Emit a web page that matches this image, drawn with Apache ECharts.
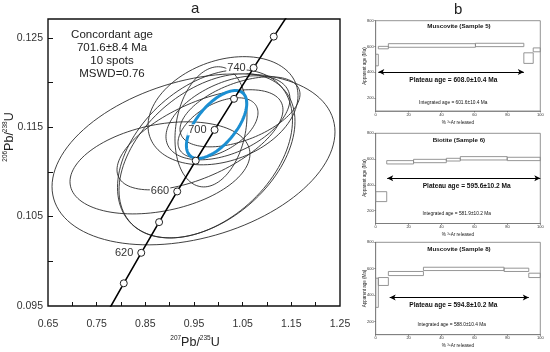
<!DOCTYPE html>
<html><head><meta charset="utf-8">
<script src="https://cdn.jsdelivr.net/npm/echarts@6/dist/echarts.min.js"></script>
<style>html,body{margin:0;padding:0;background:#fff}#c{width:550px;height:352px}</style>
</head><body><div id="c"></div>
<script>
// ---------- Panel a: concordia diagram ----------
const concordiaAges = [580, 600, 620, 640, 660, 680, 700, 720, 740, 760, 780];
const concordiaX = [0.7705, 0.8057, 0.8416, 0.8783, 0.9155, 0.9535, 0.9923, 1.0322, 1.0725, 1.1139, 1.1559];
const concordiaY = [0.09414, 0.09754, 0.10095, 0.10438, 0.10781, 0.11125, 0.11470, 0.11817, 0.12164, 0.12513, 0.12862];
const markerAges = [600, 620, 640, 660, 680, 700, 720, 740, 760];
const labeledAges = [620, 660, 700, 740];
const xTickLabelsA = [0.65, 0.75, 0.85, 0.95, 1.05, 1.15, 1.25];
const xTicksA = [0.70, 0.75, 0.80, 0.85, 0.90, 0.95, 1.00, 1.05, 1.10, 1.15, 1.20];
const yTickLabelsA = [0.095, 0.105, 0.115, 0.125];
const yTicksA = [0.100, 0.105, 0.110, 0.115, 0.120, 0.125];
// spot error ellipses: centre x, centre y, half-extent x, half-extent y, correlation
const spotX   = [0.9490, 0.8801, 0.9726, 0.9767, 1.0096, 0.9849, 1.0198, 0.9993, 1.0445, 0.9623];
const spotY   = [0.11141, 0.11045, 0.11202, 0.11180, 0.11684, 0.11504, 0.11605, 0.11493, 0.11672, 0.11359];
const spotSx  = [0.2907, 0.1849, 0.1798, 0.1808, 0.1541, 0.0740, 0.1274, 0.0822, 0.1233, 0.1705];
const spotSy  = [0.00957, 0.00515, 0.00941, 0.00918, 0.00605, 0.00672, 0.00470, 0.00336, 0.00392, 0.00560];
const spotRho = [0.32, 0.30, 0.40, 0.42, 0.28, 0.20, 0.45, 0.50, 0.50, 0.60];
const concordantMean = [0.9964, 0.1153, 0.0620, 0.0038, 0.62];
const annotationLines = ['Concordant age', '701.6±8.4 Ma', '10 spots', 'MSWD=0.76'];

// ---------- Panel b: Ar-Ar age spectra ----------
const s5Start = [0, 1.6, 7.7, 60.6, 90.0, 95.7];
const s5End   = [1.6, 7.7, 60.6, 90.0, 95.7, 100];
const s5Low   = [450, 582, 594, 599, 469, 559];
const s5High  = [540, 601, 622, 625, 551, 589];
const s6Start = [0, 6.7, 23.0, 42.9, 51.4, 79.9];
const s6End   = [6.7, 23.0, 42.9, 51.4, 79.9, 100];
const s6Low   = [270, 562, 572, 585, 593, 588];
const s6High  = [347, 588, 598, 606, 619, 614];
const s8Start = [0, 1.6, 7.7, 29.0, 78.0, 93.0];
const s8End   = [1.6, 7.7, 29.0, 78.0, 93.0, 100];
const s8Low   = [307, 473, 548, 586, 579, 533];
const s8High  = [528, 533, 579, 611, 604, 566];
const plateauFrom = [1.6, 7.0, 8.5];
const plateauTo   = [90.0, 100, 93.0];
const plateauLevel = [403, 451, 382];
const sampleTitles = ['Muscovite (Sample 5)', 'Biotite (Sample 6)', 'Muscovite (Sample 8)'];
const plateauTexts = ['Plateau age = 608.0±10.4 Ma', 'Plateau age = 595.6±10.2 Ma', 'Plateau age = 594.8±10.2 Ma'];
const integratedTexts = ['Integrated age = 601.6±10.4 Ma', 'Integrated age = 581.9±10.2 Ma', 'Integrated age = 588.0±10.4 Ma'];
const ageTicksB = [200, 400, 600, 800];
const releaseCaption = '% ³⁹Ar released';

const FONT = 'Liberation Sans, Arial, sans-serif';
const chart = echarts.init(document.getElementById('c'), null, {renderer: 'canvas'});

function ellipseRenderer(color, width) {
  return function (params, api) {
    const cx = api.value(0), cy = api.value(1), sx = api.value(2), sy = api.value(3), r = api.value(4);
    const k = Math.sqrt(1 - r * r);
    const pts = [];
    const n = 120;
    for (let i = 0; i <= n; i++) {
      const t = i / n * 2 * Math.PI;
      pts.push(api.coord([cx + sx * Math.cos(t), cy + sy * (r * Math.cos(t) + k * Math.sin(t))]));
    }
    return {type: 'polyline', shape: {points: pts}, style: {stroke: color, lineWidth: width, fill: 'none'}};
  };
}
function stepRenderer(params, api) {
  const p0 = api.coord([api.value(0), api.value(3)]);
  const p1 = api.coord([api.value(1), api.value(2)]);
  return {type: 'rect', shape: {x: p0[0], y: p0[1], width: p1[0] - p0[0], height: p1[1] - p0[1]},
    style: {stroke: '#8a8a8a', lineWidth: 0.9, fill: 'none'}};
}

const spotData = spotX.map((v, i) => [v, spotY[i], spotSx[i], spotSy[i], spotRho[i]]);
const concordiaData = concordiaAges.map((a, i) => [concordiaX[i], concordiaY[i]]);
const markerData = markerAges.map(a => {
  const i = concordiaAges.indexOf(a);
  return {value: [concordiaX[i], concordiaY[i]], age: a,
    label: {show: labeledAges.indexOf(a) >= 0}};
});

const gridsB = [
  {left: 375.7, right: 9.7, top: 20.7, bottom: 241, show: true, borderColor: '#777', borderWidth: 0.8},
  {left: 375.7, right: 9.7, top: 133.3, bottom: 128.5, show: true, borderColor: '#777', borderWidth: 0.8},
  {left: 375.7, right: 9.7, top: 242.3, bottom: 17.3, show: true, borderColor: '#777', borderWidth: 0.8}
];
const captionGap = [9.5, 8.5, 8.5];
const samples = [[s5Start, s5End, s5Low, s5High], [s6Start, s6End, s6Low, s6High], [s8Start, s8End, s8Low, s8High]];

const grids = [{left: 48, right: 210, top: 19, bottom: 46, show: true, borderColor: '#111', borderWidth: 1.4}].concat(gridsB);
const xAxes = [{
  gridIndex: 0, type: 'value', min: 0.65, max: 1.25,
  axisLine: {show: false}, splitLine: {show: false},
  axisTick: {inside: true, length: 4, customValues: xTicksA, lineStyle: {color: '#111', width: 1}},
  axisLabel: {customValues: xTickLabelsA, formatter: v => v.toFixed(2), color: '#333', fontSize: 10.5, margin: 13, fontFamily: FONT}
}];
const yAxes = [{
  gridIndex: 0, type: 'value', min: 0.095, max: 0.1271,
  axisLine: {show: false}, splitLine: {show: false},
  axisTick: {inside: true, length: 5, customValues: yTicksA, lineStyle: {color: '#111', width: 1}},
  axisLabel: {customValues: yTickLabelsA, formatter: v => v.toFixed(3), color: '#333', fontSize: 10.5, margin: 5, fontFamily: FONT}
}];
for (let g = 1; g <= 3; g++) {
  xAxes.push({gridIndex: g, type: 'value', min: 0, max: 100, interval: 20,
    name: releaseCaption, nameLocation: 'middle', nameGap: captionGap[g - 1],
    nameTextStyle: {fontSize: 4.6, color: '#222', fontFamily: FONT},
    axisLine: {show: true, lineStyle: {color: '#777', width: 0.8}}, splitLine: {show: false},
    axisTick: {length: 1.5, lineStyle: {color: '#555', width: 0.6}},
    axisLabel: {fontSize: 4, color: '#333', margin: 1.5, fontFamily: FONT}});
  yAxes.push({gridIndex: g, type: 'value', min: 100, max: 800,
    axisLine: {show: true, lineStyle: {color: '#777', width: 0.8}}, splitLine: {show: false},
    axisTick: {length: 1.5, customValues: ageTicksB, lineStyle: {color: '#555', width: 0.6}},
    axisLabel: {customValues: ageTicksB, fontSize: 4, color: '#333', margin: 2, fontFamily: FONT}});
}

const series = [
  {type: 'custom', xAxisIndex: 0, yAxisIndex: 0, data: spotData, renderItem: ellipseRenderer('#2b2b2b', 0.9),
    encode: {x: 0, y: 1}, clip: true, z: 2, silent: true},
  {type: 'custom', xAxisIndex: 0, yAxisIndex: 0, data: [concordantMean], renderItem: ellipseRenderer('#1b8fd2', 3),
    encode: {x: 0, y: 1}, clip: true, z: 3, silent: true},
  {type: 'line', xAxisIndex: 0, yAxisIndex: 0, data: concordiaData, showSymbol: false, clip: true,
    lineStyle: {color: '#000', width: 1.6}, z: 4, silent: true},
  {type: 'scatter', xAxisIndex: 0, yAxisIndex: 0, data: markerData, symbol: 'circle', symbolSize: 7,
    itemStyle: {color: '#fff', borderColor: '#222', borderWidth: 1, opacity: 1}, z: 5, silent: true,
    label: {position: 'left', distance: 3, formatter: p => String(p.data.age), color: '#333', fontSize: 11,
      fontFamily: FONT, backgroundColor: '#fff', padding: [0, 1, 0, 1]}}
];
samples.forEach((s, k) => {
  const data = s[0].map((v, i) => [v, s[1][i], s[2][i], s[3][i]]);
  series.push({type: 'custom', xAxisIndex: k + 1, yAxisIndex: k + 1, data: data, renderItem: stepRenderer,
    encode: {x: [0, 1], y: [2, 3]}, clip: true, silent: true, z: 2});
  series.push({type: 'line', xAxisIndex: k + 1, yAxisIndex: k + 1, data: [], silent: true,
    markLine: {silent: true, symbol: ['arrow', 'arrow'], symbolSize: [4.5, 6],
      lineStyle: {color: '#000', width: 1, type: 'solid'}, label: {show: false},
      data: [[{coord: [plateauFrom[k], plateauLevel[k]]}, {coord: [plateauTo[k], plateauLevel[k]]}]]}});
});

const sup = {b: {fontSize: 12.5, verticalAlign: 'bottom', lineHeight: 15, fontFamily: FONT, fill: '#222'},
             s: {fontSize: 6.5, verticalAlign: 'top', lineHeight: 15, fontFamily: FONT, fill: '#222'}};
const graphic = [
  {type: 'text', left: 191, top: 1, style: {text: 'a', fontSize: 15, fontFamily: FONT, fill: '#222'}},
  {type: 'text', left: 454, top: 2, style: {text: 'b', fontSize: 15, fontFamily: FONT, fill: '#222'}},
  {type: 'text', x: 112, y: 28.5, style: {text: annotationLines.join('\n'), fontSize: 11.5, lineHeight: 13,
    fontFamily: FONT, fill: '#222', align: 'center', verticalAlign: 'top'}},
  {type: 'text', x: 195, y: 342, style: {text: '{s|207}{b|Pb/}{s|235}{b|U}', rich: sup, align: 'center', verticalAlign: 'middle'}},
  {type: 'text', x: 9, y: 137, rotation: Math.PI / 2, style: {text: '{s|206}{b|Pb/}{s|238}{b|U}', rich: sup, align: 'center', verticalAlign: 'middle'}}
];
const titleY = [26.7, 140, 249.3], plateauY = [80, 186, 305], plateauX = [453.3, 466.7, 453.3];
const integY = [102.3, 213.3, 325], integX = [453.3, 456.7, 451.7];
const centerY = [66, 178, 288.5];
for (let k = 0; k < 3; k++) {
  graphic.push({type: 'text', id: 'title' + k, x: 459, y: titleY[k], z: 50, style: {text: sampleTitles[k], fontSize: 6.2, fontWeight: 'bold',
    fontFamily: FONT, fill: '#111', align: 'center', verticalAlign: 'middle'}});
  graphic.push({type: 'text', id: 'plateau' + k, x: plateauX[k], y: plateauY[k], z: 50, style: {text: plateauTexts[k], fontSize: 6.6, fontWeight: 'bold',
    fontFamily: FONT, fill: '#111', align: 'center', verticalAlign: 'middle'}});
  graphic.push({type: 'text', id: 'integ' + k, x: integX[k], y: integY[k], z: 50, style: {text: integratedTexts[k], fontSize: 4.8,
    fontFamily: FONT, fill: '#111', align: 'center', verticalAlign: 'middle'}});
  graphic.push({type: 'text', id: 'ylab' + k, x: 364.5, y: centerY[k], z: 50, rotation: Math.PI / 2, style: {text: 'Apparent age (Ma)', fontSize: 4.5,
    fontFamily: FONT, fill: '#222', align: 'center', verticalAlign: 'middle'}});
}

chart.setOption({
  animation: false,
  backgroundColor: '#fff',
  grid: grids, xAxis: xAxes, yAxis: yAxes, series: series, graphic: graphic
});
</script></body></html>
